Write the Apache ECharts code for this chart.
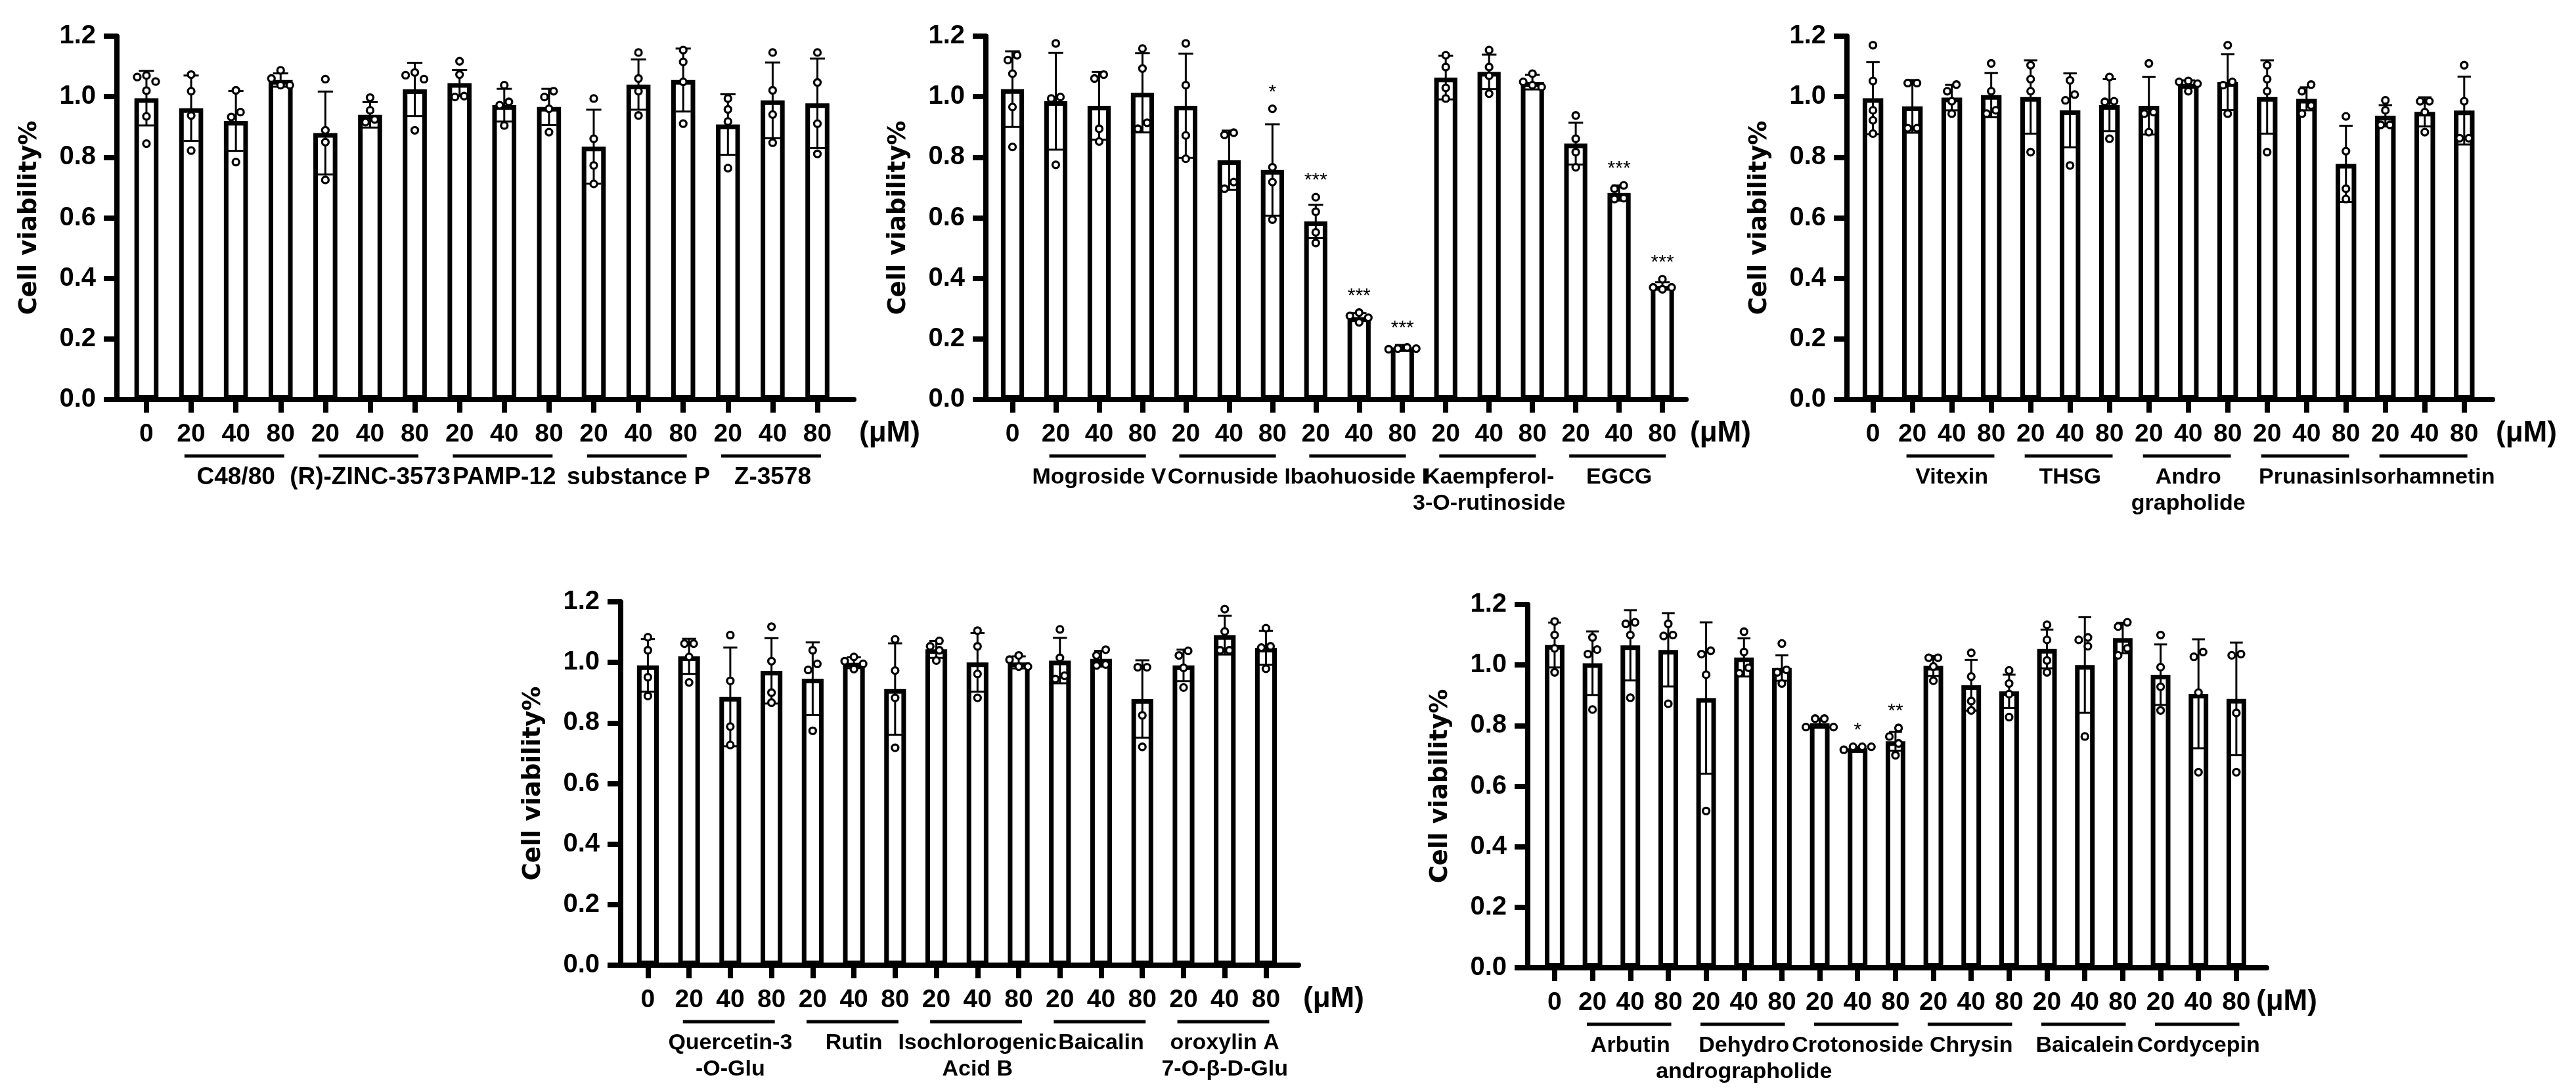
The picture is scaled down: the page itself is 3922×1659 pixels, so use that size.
<!DOCTYPE html>
<html>
<head>
<meta charset="utf-8">
<title>Cell viability</title>
<script src="https://cdn.jsdelivr.net/npm/echarts@6/dist/echarts.min.js"></script>
<style>
html, body { margin: 0; padding: 0; background: #fff; }
#main { width: 3922px; height: 1659px; }
</style>
</head>
<body>
<div id="main"></div>
<script>
// tick labels under the bars
var dose16 = ['0','20','40','80','20','40','80','20','40','80','20','40','80','20','40','80'];
var dose19 = ['0','20','40','80','20','40','80','20','40','80','20','40','80','20','40','80','20','40','80'];
var unitLabel = '(μM)';

// panel 1
var p1Groups = ['C48/80', '(R)-ZINC-3573', 'PAMP-12', 'substance P', 'Z-3578'];
var p1Mean = [0.995, 0.962, 0.920, 1.055, 0.880, 0.940, 1.024, 1.045, 0.972, 0.966, 0.835, 1.040, 1.055, 0.908, 0.988, 0.978];
var p1Sd = [0.090, 0.108, 0.099, 0.022, 0.137, 0.042, 0.088, 0.043, 0.054, 0.060, 0.122, 0.083, 0.104, 0.100, 0.125, 0.148];
var p1Points = [
  [1.065, 1.070, 1.050, 1.020, 0.935, 0.845],
  [1.073, 1.018, 0.938, 0.822],
  [1.021, 0.949, 0.933, 0.784],
  [1.087, 1.060, 1.038, 1.038],
  [1.058, 0.889, 0.850, 0.725],
  [0.997, 0.955, 0.925, 0.916],
  [1.080, 1.071, 1.058, 0.889],
  [1.117, 1.073, 1.002, 0.999],
  [1.038, 0.983, 0.972, 0.905],
  [1.018, 0.999, 0.960, 0.883],
  [0.994, 0.861, 0.773, 0.712],
  [1.146, 1.060, 1.018, 0.938],
  [1.154, 1.115, 1.049, 0.911],
  [0.994, 0.958, 0.918, 0.764],
  [1.146, 1.021, 0.941, 0.848],
  [1.146, 1.047, 0.911, 0.811]
];
var p1Stars = [];

// panel 2
var p2Groups = ['Mogroside V', 'Cornuside I', 'baohuoside I', 'Kaempferol-\n3-O-rutinoside', 'EGCG'];
var p2Mean = [1.025, 0.985, 0.970, 1.013, 0.970, 0.790, 0.758, 0.588, 0.272, 0.172, 1.063, 1.082, 1.048, 0.845, 0.682, 0.375];
var p2Sd = [0.125, 0.160, 0.112, 0.131, 0.172, 0.098, 0.151, 0.055, 0.013, 0.008, 0.072, 0.057, 0.024, 0.069, 0.025, 0.012];
var p2Points = [
  [1.137, 1.121, 1.076, 0.966, 0.834],
  [1.176, 0.999, 0.994, 0.775],
  [1.073, 1.060, 0.894, 0.852],
  [1.159, 1.093, 0.914, 0.894],
  [1.176, 1.038, 0.872, 0.795],
  [0.881, 0.874, 0.718, 0.696],
  [0.960, 0.767, 0.718, 0.594],
  [0.668, 0.620, 0.552, 0.517],
  [0.287, 0.276, 0.270, 0.255],
  [0.172, 0.168, 0.168, 0.166],
  [1.137, 1.098, 1.029, 0.994],
  [1.154, 1.098, 1.069, 1.010],
  [1.076, 1.049, 1.038, 1.032],
  [0.938, 0.861, 0.817, 0.767],
  [0.707, 0.696, 0.665, 0.662],
  [0.397, 0.370, 0.370, 0.364]
];
var p2Stars = ['', '', '', '', '', '', '*', '***', '***', '***', '', '', '', '', '***', '***'];

// panel 3
var p3Groups = ['Vitexin', 'THSG', 'Andro\ngrapholide', 'Prunasin', 'Isorhamnetin'];
var p3Mean = [0.995, 0.968, 0.997, 1.005, 0.999, 0.955, 0.972, 0.970, 1.042, 1.048, 0.999, 0.993, 0.778, 0.937, 0.950, 0.954];
var p3Sd = [0.119, 0.087, 0.042, 0.073, 0.121, 0.122, 0.086, 0.095, 0.012, 0.092, 0.121, 0.038, 0.126, 0.035, 0.048, 0.112];
var p3Points = [
  [1.170, 1.052, 0.955, 0.922, 0.878],
  [1.045, 1.045, 0.896, 0.896],
  [1.040, 1.018, 0.985, 0.944],
  [1.110, 1.018, 0.955, 0.944],
  [1.104, 1.058, 1.018, 0.817],
  [1.054, 1.007, 0.988, 0.773],
  [1.065, 0.985, 0.983, 0.861],
  [1.110, 0.949, 0.944, 0.883],
  [1.052, 1.049, 1.043, 1.018],
  [1.170, 1.049, 1.038, 0.944],
  [1.104, 1.058, 1.018, 0.817],
  [1.040, 1.018, 0.971, 0.944],
  [0.935, 0.820, 0.696, 0.662],
  [0.988, 0.955, 0.907, 0.907],
  [0.985, 0.985, 0.949, 0.883],
  [1.104, 0.985, 0.863, 0.863]
];
var p3Stars = [];

// panel 4
var p4Groups = ['Quercetin-3\n-O-Glu', 'Rutin', 'Isochlorogenic\nAcid B', 'Baicalin', 'oroxylin A\n7-O-β-D-Glu'];
var p4Mean = [0.990, 1.020, 0.886, 0.972, 0.946, 0.999, 0.912, 1.043, 1.000, 1.000, 1.006, 1.012, 0.879, 0.990, 1.090, 1.048];
var p4Sd = [0.087, 0.058, 0.163, 0.108, 0.120, 0.018, 0.151, 0.028, 0.097, 0.020, 0.075, 0.026, 0.128, 0.052, 0.064, 0.056];
var p4Points = [
  [1.083, 1.040, 0.951, 0.889],
  [1.062, 1.062, 1.018, 0.934],
  [1.090, 0.939, 0.788, 0.727],
  [1.118, 1.004, 0.900, 0.867],
  [1.040, 0.995, 0.975, 0.774],
  [1.018, 1.004, 0.995, 0.978],
  [1.076, 0.973, 0.883, 0.718],
  [1.071, 1.053, 1.040, 1.006],
  [1.105, 1.053, 0.962, 0.883],
  [1.023, 1.009, 0.986, 0.986],
  [1.109, 1.015, 0.956, 0.945],
  [1.042, 1.023, 0.993, 0.990],
  [0.984, 0.984, 0.825, 0.721],
  [1.038, 1.023, 0.982, 0.917],
  [1.176, 1.102, 1.040, 1.040],
  [1.113, 1.053, 1.049, 0.979]
];
var p4Stars = [];

// panel 5
var p5Groups = ['Arbutin', 'Dehydro\nandrographolide', 'Crotonoside', 'Chrysin', 'Baicalein', 'Cordycepin'];
var p5Mean = [1.066, 1.006, 1.065, 1.050, 0.891, 1.025, 0.990, 0.808, 0.725, 0.748, 0.997, 0.933, 0.913, 1.053, 1.000, 1.089, 0.968, 0.905, 0.888];
var p5Sd = [0.074, 0.105, 0.116, 0.121, 0.250, 0.063, 0.042, 0.015, 0.005, 0.031, 0.033, 0.084, 0.055, 0.064, 0.158, 0.050, 0.100, 0.180, 0.186];
var p5Points = [
  [1.144, 1.099, 1.055, 0.976],
  [1.091, 1.051, 1.036, 0.853],
  [1.141, 1.136, 1.099, 0.892],
  [1.136, 1.099, 1.096, 0.872],
  [1.047, 1.036, 0.968, 0.518],
  [1.110, 1.043, 0.991, 0.973],
  [1.071, 0.984, 0.976, 0.939],
  [0.823, 0.823, 0.795, 0.795],
  [0.730, 0.730, 0.730, 0.720],
  [0.792, 0.764, 0.741, 0.702],
  [1.024, 1.024, 0.995, 0.948],
  [1.040, 0.962, 0.881, 0.850],
  [0.982, 0.939, 0.904, 0.828],
  [1.133, 1.083, 1.015, 0.976],
  [1.091, 1.083, 1.062, 0.764],
  [1.141, 1.127, 1.055, 1.032],
  [1.099, 0.993, 0.928, 0.850],
  [1.043, 1.027, 0.909, 0.646],
  [1.036, 1.032, 0.842, 0.646]
];
var p5Stars = ['', '', '', '', '', '', '', '', '*', '**', '', '', '', '', '', '', '', '', ''];

var FONT = '"Liberation Sans", Arial, Helvetica, sans-serif';

var panels = [
  {mean: p1Mean, sd: p1Sd, pts: p1Points, groups: p1Groups, stars: p1Stars, ticks: dose16,
   left: 178, top: 55, width: 1122, height: 553, min: -0.66, max: 15.815, groupFont: 37, unitGap: 8},
  {mean: p2Mean, sd: p2Sd, pts: p2Points, groups: p2Groups, stars: p2Stars, ticks: dose16,
   left: 1501, top: 55, width: 1066, height: 553, min: -0.614, max: 15.545, groupFont: 34, unitGap: 6},
  {mean: p3Mean, sd: p3Sd, pts: p3Points, groups: p3Groups, stars: p3Stars, ticks: dose16,
   left: 2812, top: 55, width: 983, height: 553, min: -0.66, max: 15.72, groupFont: 34, unitGap: 5},
  {mean: p4Mean, sd: p4Sd, pts: p4Points, groups: p4Groups, stars: p4Stars, ticks: dose16,
   left: 945, top: 916, width: 1032, height: 553, min: -0.66, max: 15.79, groupFont: 34, unitGap: 7},
  {mean: p5Mean, sd: p5Sd, pts: p5Points, groups: p5Groups, stars: p5Stars, ticks: dose19,
   left: 2326, top: 920, width: 1125, height: 553, min: -0.71, max: 18.8, groupFont: 34, unitGap: -16}
];

var chart = echarts.init(document.getElementById('main'), null, {renderer: 'canvas'});
var option = {animation: false, backgroundColor: '#fff', grid: [], xAxis: [], yAxis: [], series: []};

panels.forEach(function (p, k) {
  var step = p.width / (p.max - p.min);
  var idx = p.mean.map(function (m, i) { return i; });

  option.grid.push({left: p.left, top: p.top, width: p.width, height: p.height});

  option.xAxis.push({
    type: 'value', gridIndex: k, min: p.min, max: p.max,
    axisLine: {show: true, onZero: false, lineStyle: {color: '#000', width: 8}},
    axisTick: {show: true, customValues: idx, length: 20, lineStyle: {color: '#000', width: 8}},
    axisLabel: {show: true, customValues: idx, margin: 34, fontSize: 39, fontWeight: 'bold',
      fontFamily: FONT, color: '#000',
      formatter: function (v) { return p.ticks[Math.round(v)]; }},
    splitLine: {show: false}
  });

  option.yAxis.push({
    type: 'value', gridIndex: k, min: 0, max: 1.2, interval: 0.2,
    name: 'Cell viability%', nameLocation: 'middle', nameGap: 114, nameRotate: 90,
    nameTextStyle: {fontFamily: '"DejaVu Sans", Verdana, sans-serif', fontWeight: 'bold', fontSize: 37, color: '#000'},
    axisLine: {show: true, onZero: false, lineStyle: {color: '#000', width: 8}},
    axisTick: {show: true, length: 20, lineStyle: {color: '#000', width: 8}},
    axisLabel: {margin: 32, fontSize: 40, fontWeight: 'bold', fontFamily: FONT, color: '#000',
      formatter: function (v) { return v.toFixed(1); }},
    splitLine: {show: false}
  });

  // bars
  option.series.push({
    type: 'bar', xAxisIndex: k, yAxisIndex: k, silent: true, z: 2,
    barWidth: 0.64 * step - 7,
    itemStyle: {color: '#fff', borderColor: '#000', borderWidth: 7},
    data: p.mean.map(function (m, i) { return [i, m]; })
  });

  // error bars (mean ± sd)
  option.series.push({
    type: 'custom', xAxisIndex: k, yAxisIndex: k, silent: true, z: 3,
    data: p.mean.map(function (m, i) { return [i, m - p.sd[i], m + p.sd[i]]; }),
    renderItem: function (params, api) {
      var lo = api.coord([api.value(0), api.value(1)]);
      var hi = api.coord([api.value(0), api.value(2)]);
      var hw = step * 0.17;
      var st = {stroke: '#000', lineWidth: 3};
      return {type: 'group', children: [
        {type: 'line', shape: {x1: lo[0], y1: lo[1], x2: hi[0], y2: hi[1]}, style: st},
        {type: 'line', shape: {x1: hi[0] - hw, y1: hi[1], x2: hi[0] + hw, y2: hi[1]}, style: st},
        {type: 'line', shape: {x1: lo[0] - hw, y1: lo[1], x2: lo[0] + hw, y2: lo[1]}, style: st}
      ]};
    }
  });

  // replicate points, spread sideways when they would overlap
  option.series.push({
    type: 'custom', xAxisIndex: k, yAxisIndex: k, silent: true, z: 4,
    data: p.mean.map(function (m, i) { return [i, m]; }),
    renderItem: function (params, api) {
      var i = api.value(0);
      var vals = p.pts[params.dataIndex].slice().sort(function (a, b) { return b - a; });
      var cx = api.coord([i, 0])[0];
      var d = 13, s = 14;
      var placed = [];
      vals.forEach(function (v) {
        var y = api.coord([i, v])[1];
        var cands = [0, -s, s, -2 * s, 2 * s];
        for (var c = 0; c < cands.length; c++) {
          var ok = placed.every(function (q) {
            var dx = q.x - cands[c], dy = q.y - y;
            return dx * dx + dy * dy >= d * d;
          });
          if (ok) { placed.push({x: cands[c], y: y}); return; }
        }
        placed.push({x: 0, y: y});
      });
      // centre each cluster of touching points
      var cl = [];
      placed.forEach(function (q) {
        var last = cl[cl.length - 1];
        if (last && Math.abs(last[last.length - 1].y - q.y) < d) last.push(q); else cl.push([q]);
      });
      var kids = [];
      cl.forEach(function (g) {
        var mx = g.reduce(function (a, q) { return a + q.x; }, 0) / g.length;
        g.forEach(function (q) {
          kids.push({type: 'circle', shape: {cx: cx + q.x - mx, cy: q.y, r: 5},
            style: {fill: '#fff', stroke: '#000', lineWidth: 3.3}});
        });
      });
      return {type: 'group', children: kids};
    }
  });

  // significance marks
  if (p.stars.length) {
    option.series.push({
      type: 'custom', xAxisIndex: k, yAxisIndex: k, silent: true, z: 5,
      data: idx.filter(function (i) { return p.stars[i]; }).map(function (i) { return [i, p.mean[i]]; }),
      renderItem: function (params, api) {
        var i = api.value(0);
        var topV = Math.max(p.mean[i] + p.sd[i], Math.max.apply(null, p.pts[i]));
        var c = api.coord([i, topV]);
        return {type: 'text', style: {text: p.stars[i], x: c[0], y: c[1] - 7 - 18,
          align: 'center', verticalAlign: 'middle', fontSize: 30, fontFamily: FONT, fill: '#000'}};
      }
    });
  }

  // treatment groups: underline + name
  option.series.push({
    type: 'custom', xAxisIndex: k, yAxisIndex: k, silent: true, z: 5,
    data: p.groups.map(function (g, j) { return [1 + 3 * j, 3 + 3 * j]; }),
    renderItem: function (params, api) {
      var a = api.coord([api.value(0), 0]);
      var b = api.coord([api.value(1), 0]);
      var y0 = a[1];
      var mid = (a[0] + b[0]) / 2;
      return {type: 'group', children: [
        {type: 'line', shape: {x1: a[0] - step * 0.15, y1: y0 + 86, x2: b[0] + step * 0.08, y2: y0 + 86},
          style: {stroke: '#000', lineWidth: 5}},
        {type: 'text', style: {text: p.groups[params.dataIndex], x: mid, y: y0 + 99,
          align: 'center', verticalAlign: 'top', lineHeight: 40,
          fontSize: p.groupFont, fontWeight: 'bold', fontFamily: FONT, fill: '#000'}}
      ]};
    }
  });

  // concentration unit, after the end of the x axis, on the dose-label row
  option.series.push({
    type: 'custom', xAxisIndex: k, yAxisIndex: k, silent: true, z: 5,
    data: [[p.max, 0]],
    renderItem: function (params, api) {
      var c = api.coord([api.value(0), api.value(1)]);
      return {type: 'text', style: {text: unitLabel, x: c[0] + p.unitGap, y: c[1] + 52,
        align: 'left', verticalAlign: 'middle', fontSize: 44, fontWeight: 'bold', fontFamily: FONT, fill: '#000'}};
    }
  });
});

chart.setOption(option);
</script>
</body>
</html>
